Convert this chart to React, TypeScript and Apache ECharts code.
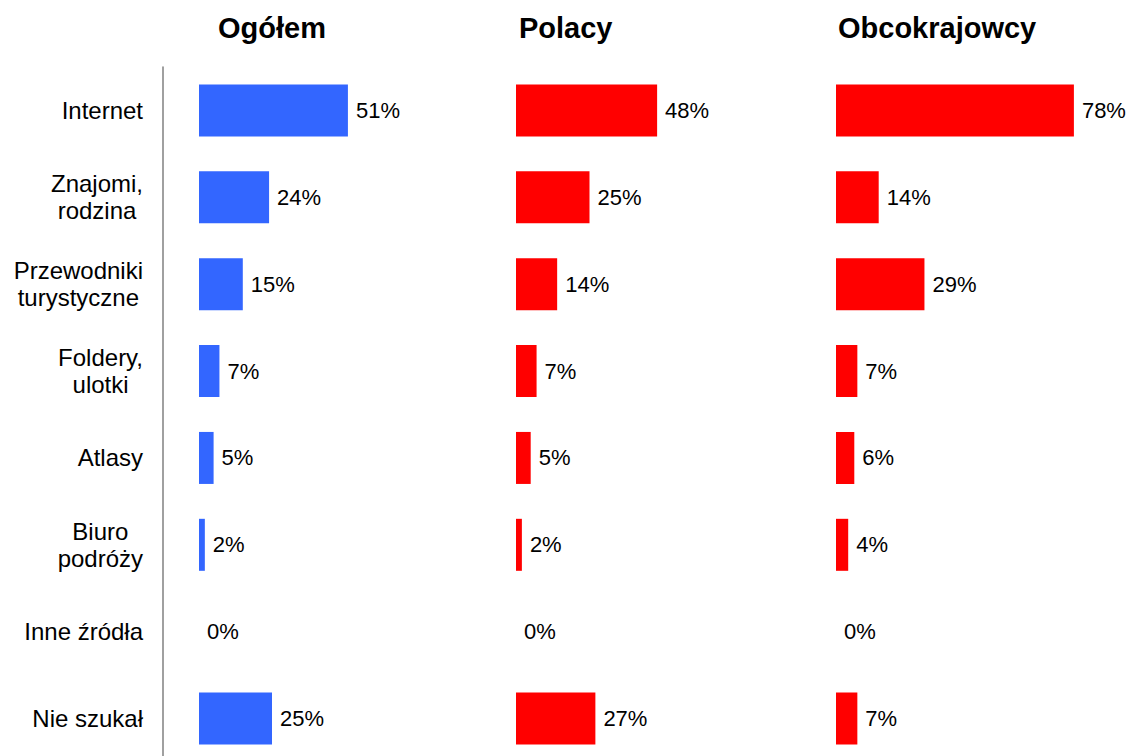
import React, { useEffect, useRef } from "react";
import * as echarts from "echarts";

const categories = [
  "Internet",
  "Znajomi,\nrodzina",
  "Przewodniki\nturystyczne",
  "Foldery,\nulotki",
  "Atlasy",
  "Biuro\npodróży",
  "Inne źródła",
  "Nie szukał",
];
const panelTitles = ["Ogółem", "Polacy", "Obcokrajowcy"];
const ogolem = [51, 24, 15, 7, 5, 2, 0, 25];
const polacy = [48, 25, 14, 7, 5, 2, 0, 27];
const obcokrajowcy = [78, 14, 29, 7, 6, 4, 0, 7];

const FONT = '"Liberation Sans", Arial, sans-serif';

export default function App() {
  const ref = useRef<HTMLDivElement>(null);
  useEffect(() => {
    if (!ref.current) return;
    const chart = echarts.init(ref.current, undefined, { renderer: "svg" });
    const series = [ogolem, polacy, obcokrajowcy];
    const colors = ["#3366ff", "#ff0000", "#ff0000"];
    const grids = [
      { left: 199, top: 67, width: 292, height: 695 },
      { left: 516, top: 67, width: 294, height: 695 },
      { left: 836, top: 67, width: 244, height: 695 },
    ];
    const maxes = [100, 100, 80];
    const titleX = [218, 519, 838];
    chart.setOption({
      animation: false,
      textStyle: { fontFamily: FONT },
      grid: grids,
      xAxis: grids.map((_, i) => ({
        type: "value",
        gridIndex: i,
        min: 0,
        max: maxes[i],
        show: false,
      })),
      yAxis: grids.map((_, i) => ({
        type: "category",
        gridIndex: i,
        data: categories,
        inverse: true,
        show: i === 0,
        offset: 36,
        axisLine: { show: true, onZero: false, lineStyle: { color: "#808080", width: 1.5 } },
        axisTick: { show: false },
        splitLine: { show: false },
        axisLabel: {
          margin: 20,
          color: "#000",
          fontFamily: FONT,
          fontSize: 24,
          formatter: (v: string) =>
            v
              .split("\n")
              .map((l) => `{c|${l}}`)
              .join("\n"),
          rich: {
            c: {
              align: "center",
              fontSize: 24,
              lineHeight: 27,
              color: "#000",
              fontFamily: FONT,
            },
          },
        },
      })),
      series: series.map((d, i) => ({
        type: "bar",
        xAxisIndex: i,
        yAxisIndex: i,
        data: d,
        barWidth: 52,
        itemStyle: { color: colors[i] },
        label: {
          show: true,
          position: "right",
          distance: 8,
          formatter: "{c}%",
          color: "#000",
          fontFamily: FONT,
          fontSize: 22,
        },
      })),
      graphic: panelTitles.map((t, i) => ({
        type: "text",
        left: titleX[i],
        top: 13,
        style: {
          text: t,
          font: `bold 29px ${FONT}`,
          fill: "#000",
        },
      })),
    });
    return () => chart.dispose();
  }, []);
  return (
    <div
      ref={ref}
      style={{ position: "fixed", left: 0, top: 0, width: 1131, height: 770, background: "#fff" }}
    />
  );
}
